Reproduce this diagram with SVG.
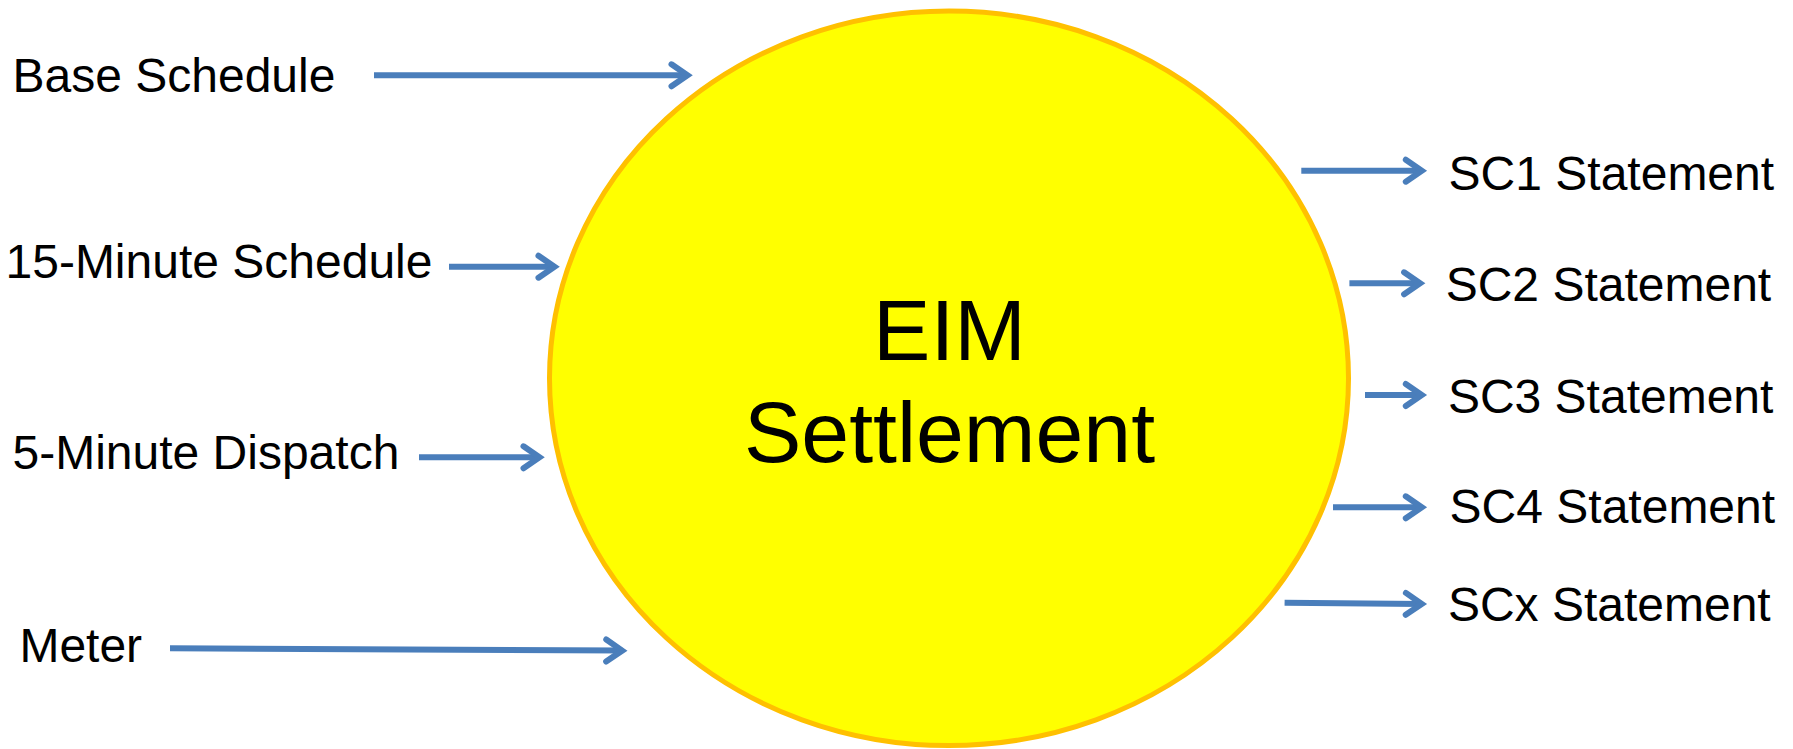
<svg xmlns="http://www.w3.org/2000/svg" width="1793" height="749" viewBox="0 0 1793 749">
  <style>
    .lbl { font-family: "Liberation Sans", Arial, sans-serif; font-size: 48px; fill: #000000; }
    .title { font-family: "Liberation Sans", Arial, sans-serif; font-size: 86px; fill: #000000; text-anchor: middle; }
    .conn { stroke: #4A7EBB; stroke-width: 6; fill: none; marker-end: url(#chev); }
  </style>
  <defs>
    <marker id="chev" markerUnits="userSpaceOnUse" markerWidth="40" markerHeight="36" refX="22" refY="17" orient="auto" overflow="visible">
      <path d="M6,6 L22,17 L6,28" fill="none" stroke="#4A7EBB" stroke-width="6" stroke-linecap="round" stroke-linejoin="miter"/>
    </marker>
  </defs>
  <rect x="0" y="0" width="1793" height="749" fill="#FFFFFF"/>

  <g id="eim-settlement">
    <ellipse cx="949" cy="378.3" rx="399.5" ry="367.3" fill="#FFFF00" stroke="#FFC000" stroke-width="5"/>
    <text class="title" x="949.5" y="360">EIM</text>
    <text class="title" x="949.5" y="461.7">Settlement</text>
  </g>

  <g id="base-schedule"><text class="lbl" x="12.5" y="91.7">Base Schedule</text></g>
  <g id="fifteen-minute-schedule"><text class="lbl" x="5.5" y="277.7">15-Minute Schedule</text></g>
  <g id="five-minute-dispatch"><text class="lbl" x="12.5" y="469.3">5-Minute Dispatch</text></g>
  <g id="meter"><text class="lbl" x="19.4" y="661.7">Meter</text></g>

  <g id="sc1-statement"><text class="lbl" x="1448.6" y="190">SC1 Statement</text></g>
  <g id="sc2-statement"><text class="lbl" x="1445.7" y="301">SC2 Statement</text></g>
  <g id="sc3-statement"><text class="lbl" x="1447.9" y="412.7">SC3 Statement</text></g>
  <g id="sc4-statement"><text class="lbl" x="1449.6" y="523.3">SC4 Statement</text></g>
  <g id="scx-statement"><text class="lbl" x="1447.9" y="621">SCx Statement</text></g>

  <g id="connectors">
    <line class="conn" x1="374" y1="75.3" x2="687.5" y2="75.3"/>
    <line class="conn" x1="449" y1="266.7" x2="554.5" y2="266.7"/>
    <line class="conn" x1="419" y1="457.3" x2="539.5" y2="457.3"/>
    <line class="conn" x1="170" y1="648.3" x2="622.2" y2="650.6"/>
    <line class="conn" x1="1301.3" y1="170.7" x2="1421.8" y2="170.7"/>
    <line class="conn" x1="1349.4" y1="283.3" x2="1420.1" y2="283.3"/>
    <line class="conn" x1="1365" y1="395" x2="1421.8" y2="395"/>
    <line class="conn" x1="1333" y1="507.3" x2="1421.8" y2="507.3"/>
    <line class="conn" x1="1284.6" y1="602.7" x2="1421.8" y2="604"/>
  </g>
</svg>
